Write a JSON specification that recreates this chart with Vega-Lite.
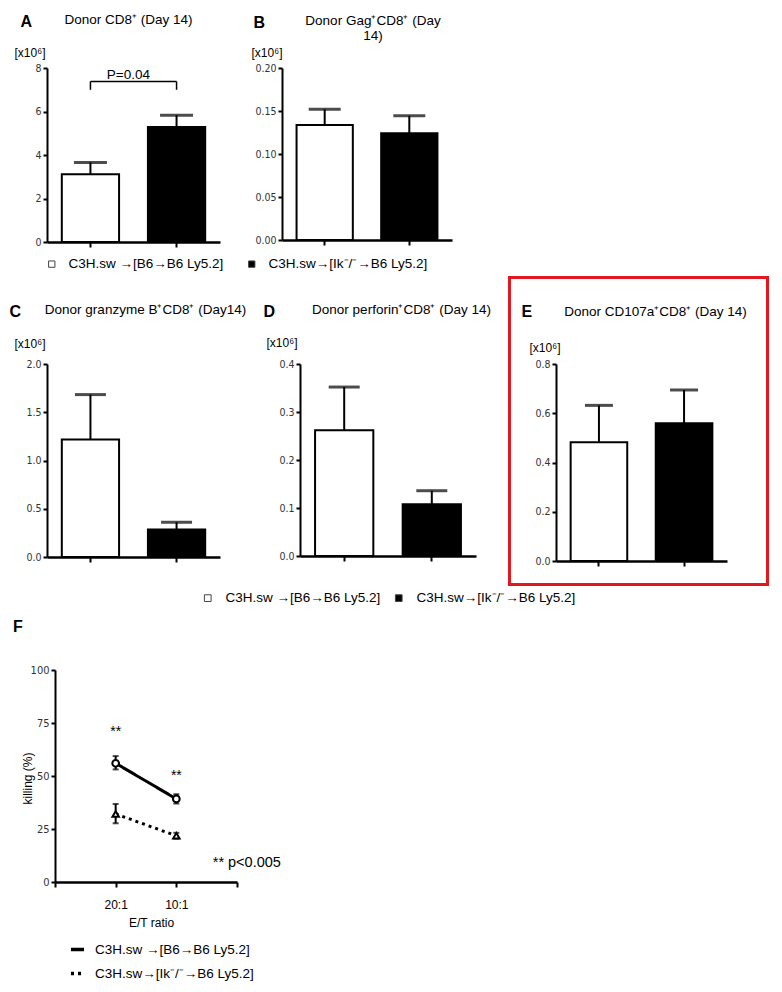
{
  "$schema": "https://vega.github.io/schema/vega-lite/v6.json",
  "autosize": {"type": "pad"},
  "padding": {"left": 9, "top": 12, "right": 0, "bottom": 0},
  "background": "white",
  "config": {
    "font": "Liberation Sans",
    "view": {"stroke": null},
    "title": {"font": "Liberation Sans", "fontSize": 13.5, "fontWeight": "normal", "color": "black", "anchor": "middle", "frame": "group", "offset": 0, "baseline": "alphabetic"},
    "axisY": {"grid": false, "domainColor": "black", "domainWidth": 2, "tickColor": "black", "tickWidth": 2, "tickSize": 4, "labelFont": "Liberation Sans Narrow, DejaVu Sans Condensed, Liberation Sans", "labelFontSize": 10.5, "labelColor": "#333", "labelPadding": 2, "titleAlign": "right", "titleBaseline": "alphabetic", "titleFont": "Liberation Sans", "titleFontSize": 12, "titleFontWeight": "normal", "titleColor": "black"},
    "axisX": {"grid": false, "domainColor": "black", "domainWidth": 2.5, "tickColor": "black", "tickWidth": 2, "tickSize": 5, "labels": false, "titleFont": "Liberation Sans", "titleFontSize": 16, "titleFontWeight": "bold", "titleColor": "black", "titleAlign": "left", "titleBaseline": "alphabetic"},
    "legend": {"padding": 0, "title": null, "labelFont": "Liberation Sans", "labelFontSize": 13.5, "labelColor": "black", "labelLimit": 400}
  },
  "spacing": 5,
  "resolve": {"scale": {"fill": "independent", "strokeDash": "independent"}, "legend": {"fill": "independent", "strokeDash": "independent"}},
  "vconcat": [
    {
      "bounds": "flush",
      "spacing": 62,
      "resolve": {"scale": {"fill": "independent"}, "legend": {"fill": "independent"}},
      "hconcat": [
        {
          "width": 173, "height": 174,
          "title": {"text": "Donor CD8⁺ (Day 14)", "dx": -5, "dy": 16.5},
          "data": {"values": [
            {"group": "C3H.sw →[B6→B6 Ly5.2]", "mean": 3.11, "upper": 3.66},
            {"group": "C3H.sw→[Ik⁻/⁻→B6 Ly5.2]", "mean": 5.29, "upper": 5.83}
          ]},
          "layer": [
            {
              "mark": {"type": "rule", "strokeWidth": 2, "color": "black"},
              "encoding": {
                "x": {"field": "group", "type": "nominal", "scale": {"domain": ["C3H.sw →[B6→B6 Ly5.2]", "C3H.sw→[Ik⁻/⁻→B6 Ly5.2]"], "paddingInner": 0.335, "paddingOuter": 0.172}, "axis": {"title": "A", "titleX": -27, "titleY": -215.5}},
                "y": {"field": "mean", "type": "quantitative", "scale": {"domain": [0, 8], "nice": false}, "axis": {"title": "[x10⁶]", "titleAngle": 0, "titleX": -2, "titleY": -12, "values": [0, 2, 4, 6, 8], "format": "d"}},
                "y2": {"field": "upper"}
              }
            },
            {
              "mark": {"type": "tick", "orient": "horizontal", "size": 33, "thickness": 3, "color": "black"},
              "encoding": {
                "x": {"field": "group", "type": "nominal"},
                "y": {"field": "upper", "type": "quantitative"}
              }
            },
            {
              "mark": {"type": "bar", "stroke": "black", "strokeWidth": 2},
              "encoding": {
                "x": {"field": "group", "type": "nominal"},
                "y": {"field": "mean", "type": "quantitative"},
                "fill": {"field": "group", "type": "nominal", "scale": {"domain": ["C3H.sw →[B6→B6 Ly5.2]", "C3H.sw→[Ik⁻/⁻→B6 Ly5.2]"], "range": ["white", "black"]},
                  "legend": {"orient": "none", "legendX": -2, "legendY": 189, "direction": "horizontal", "columns": 2, "symbolType": "square", "symbolSize": 40, "symbolStrokeColor": "#444", "symbolStrokeWidth": 1, "labelOffset": 10, "columnPadding": 21}}
              }
            },
            {
              "data": {"values": [{"group": "C3H.sw →[B6→B6 Ly5.2]", "group2": "C3H.sw→[Ik⁻/⁻→B6 Ly5.2]", "p": 7.38}]},
              "mark": {"type": "rule", "strokeWidth": 1.5, "color": "black"},
              "encoding": {
                "x": {"field": "group", "type": "nominal"},
                "x2": {"field": "group2"},
                "y": {"field": "p", "type": "quantitative"}
              }
            },
            {
              "data": {"values": [
                {"group": "C3H.sw →[B6→B6 Ly5.2]", "top": 7.38, "bottom": 7.0},
                {"group": "C3H.sw→[Ik⁻/⁻→B6 Ly5.2]", "top": 7.38, "bottom": 7.0}
              ]},
              "mark": {"type": "rule", "strokeWidth": 1.5, "color": "black"},
              "encoding": {
                "x": {"field": "group", "type": "nominal"},
                "y": {"field": "bottom", "type": "quantitative"},
                "y2": {"field": "top"}
              }
            },
            {
              "data": {"values": [{"group": "C3H.sw →[B6→B6 Ly5.2]", "p": 7.38, "label": "P=0.04"}]},
              "mark": {"type": "text", "font": "Liberation Sans", "fontSize": 13.5, "align": "center", "baseline": "alphabetic", "dx": 38, "dy": -2, "color": "black"},
              "encoding": {
                "x": {"field": "group", "type": "nominal"},
                "y": {"field": "p", "type": "quantitative"},
                "text": {"field": "label"}
              }
            }
          ]
        },
        {
          "width": 170, "height": 172,
          "title": {"text": ["Donor Gag⁺CD8⁺ (Day", "14)"], "dx": 6, "dy": 32, "lineHeight": 15},
          "data": {"values": [
            {"group": "C3H.sw →[B6→B6 Ly5.2]", "mean": 0.1337, "upper": 0.152},
            {"group": "C3H.sw→[Ik⁻/⁻→B6 Ly5.2]", "mean": 0.124, "upper": 0.1445}
          ]},
          "layer": [
            {
              "mark": {"type": "rule", "strokeWidth": 2, "color": "black"},
              "encoding": {
                "x": {"field": "group", "type": "nominal", "scale": {"domain": ["C3H.sw →[B6→B6 Ly5.2]", "C3H.sw→[Ik⁻/⁻→B6 Ly5.2]"], "paddingInner": 0.335, "paddingOuter": 0.172}, "axis": {"title": "B", "titleX": -29, "titleY": -213}},
                "y": {"field": "mean", "type": "quantitative", "scale": {"domain": [0, 0.2], "nice": false}, "axis": {"title": "[x10⁶]", "titleAngle": 0, "titleX": 0, "titleY": -12, "values": [0, 0.05, 0.1, 0.15, 0.2], "format": ".2f"}},
                "y2": {"field": "upper"}
              }
            },
            {
              "mark": {"type": "tick", "orient": "horizontal", "size": 32, "thickness": 3, "color": "black"},
              "encoding": {
                "x": {"field": "group", "type": "nominal"},
                "y": {"field": "upper", "type": "quantitative"}
              }
            },
            {
              "mark": {"type": "bar", "stroke": "black", "strokeWidth": 2},
              "encoding": {
                "x": {"field": "group", "type": "nominal"},
                "y": {"field": "mean", "type": "quantitative"},
                "fill": {"field": "group", "type": "nominal", "scale": {"domain": ["C3H.sw →[B6→B6 Ly5.2]", "C3H.sw→[Ik⁻/⁻→B6 Ly5.2]"], "range": ["white", "black"]}, "legend": null}
              }
            }
          ]
        }
      ]
    },
    {
      "bounds": "flush",
      "spacing": 80,
      "resolve": {"scale": {"fill": "independent"}, "legend": {"fill": "independent"}},
      "hconcat": [
        {
          "width": 173, "height": 193,
          "title": {"text": "Donor granzyme B⁺CD8⁺ (Day14)", "dx": 12, "dy": 17},
          "data": {"values": [
            {"group": "C3H.sw →[B6→B6 Ly5.2]", "mean": 1.217, "upper": 1.683},
            {"group": "C3H.sw→[Ik⁻/⁻→B6 Ly5.2]", "mean": 0.284, "upper": 0.36}
          ]},
          "layer": [
            {
              "mark": {"type": "rule", "strokeWidth": 2, "color": "black"},
              "encoding": {
                "x": {"field": "group", "type": "nominal", "scale": {"domain": ["C3H.sw →[B6→B6 Ly5.2]", "C3H.sw→[Ik⁻/⁻→B6 Ly5.2]"], "paddingInner": 0.335, "paddingOuter": 0.172}, "axis": {"title": "C", "titleX": -38, "titleY": -241}},
                "y": {"field": "mean", "type": "quantitative", "scale": {"domain": [0, 2], "nice": false}, "axis": {"title": "[x10⁶]", "titleAngle": 0, "titleX": -2, "titleY": -17, "values": [0, 0.5, 1, 1.5, 2], "format": ".1f"}},
                "y2": {"field": "upper"}
              }
            },
            {
              "mark": {"type": "tick", "orient": "horizontal", "size": 31, "thickness": 3, "color": "black"},
              "encoding": {
                "x": {"field": "group", "type": "nominal"},
                "y": {"field": "upper", "type": "quantitative"}
              }
            },
            {
              "mark": {"type": "bar", "stroke": "black", "strokeWidth": 2},
              "encoding": {
                "x": {"field": "group", "type": "nominal"},
                "y": {"field": "mean", "type": "quantitative"},
                "fill": {"field": "group", "type": "nominal", "scale": {"domain": ["C3H.sw →[B6→B6 Ly5.2]", "C3H.sw→[Ik⁻/⁻→B6 Ly5.2]"], "range": ["white", "black"]},
                  "legend": {"orient": "none", "legendX": 145, "legendY": 218, "padding": 9, "fillColor": "transparent", "direction": "horizontal", "columns": 2, "symbolType": "square", "symbolSize": 45, "symbolStrokeColor": "#444", "symbolStrokeWidth": 1, "labelOffset": 11, "columnPadding": 11}}
              }
            }
          ]
        },
        {
          "width": 176, "height": 192,
          "title": {"text": "Donor perforin⁺CD8⁺ (Day 14)", "dx": 13.5, "dy": 17},
          "data": {"values": [
            {"group": "C3H.sw →[B6→B6 Ly5.2]", "mean": 0.262, "upper": 0.352},
            {"group": "C3H.sw→[Ik⁻/⁻→B6 Ly5.2]", "mean": 0.108, "upper": 0.136}
          ]},
          "layer": [
            {
              "mark": {"type": "rule", "strokeWidth": 2, "color": "black"},
              "encoding": {
                "x": {"field": "group", "type": "nominal", "scale": {"domain": ["C3H.sw →[B6→B6 Ly5.2]", "C3H.sw→[Ik⁻/⁻→B6 Ly5.2]"], "paddingInner": 0.335, "paddingOuter": 0.172}, "axis": {"title": "D", "titleX": -37, "titleY": -240}},
                "y": {"field": "mean", "type": "quantitative", "scale": {"domain": [0, 0.4], "nice": false}, "axis": {"title": "[x10⁶]", "titleAngle": 0, "titleX": -3, "titleY": -18, "values": [0, 0.1, 0.2, 0.3, 0.4], "format": ".1f"}},
                "y2": {"field": "upper"}
              }
            },
            {
              "mark": {"type": "tick", "orient": "horizontal", "size": 31, "thickness": 3, "color": "black"},
              "encoding": {
                "x": {"field": "group", "type": "nominal"},
                "y": {"field": "upper", "type": "quantitative"}
              }
            },
            {
              "mark": {"type": "bar", "stroke": "black", "strokeWidth": 2},
              "encoding": {
                "x": {"field": "group", "type": "nominal"},
                "y": {"field": "mean", "type": "quantitative"},
                "fill": {"field": "group", "type": "nominal", "scale": {"domain": ["C3H.sw →[B6→B6 Ly5.2]", "C3H.sw→[Ik⁻/⁻→B6 Ly5.2]"], "range": ["white", "black"]}, "legend": null}
              }
            }
          ]
        },
        {
          "width": 171, "height": 197,
          "title": {"text": "Donor CD107a⁺CD8⁺ (Day 14)", "dx": 14, "dy": 46},
          "data": {"values": [
            {"group": "C3H.sw →[B6→B6 Ly5.2]", "mean": 0.482, "upper": 0.632},
            {"group": "C3H.sw→[Ik⁻/⁻→B6 Ly5.2]", "mean": 0.559, "upper": 0.6945}
          ]},
          "layer": [
            {
              "mark": {"type": "rule", "strokeWidth": 2, "color": "black"},
              "encoding": {
                "x": {"field": "group", "type": "nominal", "scale": {"domain": ["C3H.sw →[B6→B6 Ly5.2]", "C3H.sw→[Ik⁻/⁻→B6 Ly5.2]"], "paddingInner": 0.335, "paddingOuter": 0.172}, "axis": {"title": "E", "titleX": -35, "titleY": -245}},
                "y": {"field": "mean", "type": "quantitative", "scale": {"domain": [0, 0.8], "nice": false}, "axis": {"title": "[x10⁶]", "titleAngle": 0, "titleX": 4, "titleY": -13, "values": [0, 0.2, 0.4, 0.6, 0.8], "format": ".1f"}},
                "y2": {"field": "upper"}
              }
            },
            {
              "mark": {"type": "tick", "orient": "horizontal", "size": 28, "thickness": 3, "color": "black"},
              "encoding": {
                "x": {"field": "group", "type": "nominal"},
                "y": {"field": "upper", "type": "quantitative"}
              }
            },
            {
              "mark": {"type": "bar", "stroke": "black", "strokeWidth": 2},
              "encoding": {
                "x": {"field": "group", "type": "nominal"},
                "y": {"field": "mean", "type": "quantitative"},
                "fill": {"field": "group", "type": "nominal", "scale": {"domain": ["C3H.sw →[B6→B6 Ly5.2]", "C3H.sw→[Ik⁻/⁻→B6 Ly5.2]"], "range": ["white", "black"]}, "legend": null}
              }
            },
            {
              "data": {"values": [{}]},
              "mark": {"type": "rect", "fillOpacity": 0, "stroke": "#e3181f", "strokeWidth": 3},
              "encoding": {"x": {"value": -46.5}, "x2": {"value": 211.5}, "y": {"value": -86.5}, "y2": {"value": 220.5}}
            }
          ]
        }
      ]
    },
    {
      "width": 190, "height": 212,
      "title": {"text": "F", "anchor": "start", "fontWeight": "bold", "fontSize": 16, "dx": -34, "dy": -25},
      "data": {"values": [
        {"series": "C3H.sw →[B6→B6 Ly5.2]", "et": 20, "mean": 56.0, "lo": 53.1, "hi": 59.4},
        {"series": "C3H.sw →[B6→B6 Ly5.2]", "et": 10, "mean": 39.2, "lo": 37.0, "hi": 41.4},
        {"series": "C3H.sw→[Ik⁻/⁻→B6 Ly5.2]", "et": 20, "mean": 32.1, "lo": 27.7, "hi": 36.8},
        {"series": "C3H.sw→[Ik⁻/⁻→B6 Ly5.2]", "et": 10, "mean": 21.8, "lo": 20.4, "hi": 23.2}
      ]},
      "layer": [
        {
          "mark": {"type": "line", "color": "black", "strokeWidth": 3, "strokeCap": "butt"},
          "encoding": {
            "x": {"field": "et", "type": "quantitative", "scale": {"domain": [0, 30], "range": [190, 8], "nice": false},
              "axis": {"title": "E/T ratio", "values": [0, 10, 20, 30], "labels": true, "labelExpr": "datum.value == 20 ? '20:1' : datum.value == 10 ? '10:1' : ''", "labelFont": "Liberation Sans", "labelFontSize": 12, "labelColor": "black", "labelPadding": 12, "titleFontSize": 12, "titleFontWeight": "normal", "titleAlign": "center", "titleX": 104, "titleY": 44}},
            "y": {"field": "mean", "type": "quantitative", "scale": {"domain": [0, 100], "nice": false},
              "axis": {"title": "killing (%)", "offset": -8, "values": [0, 25, 50, 75, 100], "titleAlign": "center", "titleBaseline": "alphabetic", "titleX": -24, "titleY": 108, "labelFontSize": 11}},
            "strokeDash": {"field": "series", "type": "nominal", "scale": {"domain": ["C3H.sw →[B6→B6 Ly5.2]", "C3H.sw→[Ik⁻/⁻→B6 Ly5.2]"], "range": [[1, 0], [3, 4]]},
              "legend": {"orient": "none", "legendX": 22, "legendY": 271, "direction": "vertical", "symbolType": "stroke", "symbolSize": 169, "symbolStrokeWidth": 3.5, "symbolStrokeColor": "black", "labelOffset": 9, "rowPadding": 8}}
          }
        },
        {
          "mark": {"type": "rule", "color": "black", "strokeWidth": 2},
          "encoding": {
            "x": {"field": "et", "type": "quantitative"},
            "y": {"field": "lo", "type": "quantitative"},
            "y2": {"field": "hi"}
          }
        },
        {
          "mark": {"type": "tick", "orient": "horizontal", "size": 6, "thickness": 2, "color": "black"},
          "encoding": {
            "x": {"field": "et", "type": "quantitative"},
            "y": {"field": "lo", "type": "quantitative"}
          }
        },
        {
          "mark": {"type": "tick", "orient": "horizontal", "size": 6, "thickness": 2, "color": "black"},
          "encoding": {
            "x": {"field": "et", "type": "quantitative"},
            "y": {"field": "hi", "type": "quantitative"}
          }
        },
        {
          "transform": [{"filter": {"field": "series", "equal": "C3H.sw →[B6→B6 Ly5.2]"}}],
          "mark": {"type": "point", "shape": "circle", "filled": true, "fill": "white", "stroke": "black", "strokeWidth": 2, "size": 45, "opacity": 1},
          "encoding": {
            "x": {"field": "et", "type": "quantitative"},
            "y": {"field": "mean", "type": "quantitative"}
          }
        },
        {
          "transform": [{"filter": {"field": "series", "equal": "C3H.sw→[Ik⁻/⁻→B6 Ly5.2]"}}],
          "mark": {"type": "point", "shape": "triangle-up", "filled": true, "fill": "white", "stroke": "black", "strokeWidth": 2, "size": 42, "opacity": 1},
          "encoding": {
            "x": {"field": "et", "type": "quantitative"},
            "y": {"field": "mean", "type": "quantitative"}
          }
        },
        {
          "data": {"values": [
            {"et": 20, "y": 69, "label": "**"},
            {"et": 10, "y": 48, "label": "**"}
          ]},
          "mark": {"type": "text", "font": "Liberation Sans", "fontSize": 14, "align": "center", "baseline": "alphabetic", "color": "black"},
          "encoding": {
            "x": {"field": "et", "type": "quantitative"},
            "y": {"field": "y", "type": "quantitative"},
            "text": {"field": "label"}
          }
        },
        {
          "data": {"values": [{"et": 4, "y": 7.1, "label": "** p<0.005"}]},
          "mark": {"type": "text", "font": "Liberation Sans", "fontSize": 14.5, "align": "left", "baseline": "alphabetic", "color": "black"},
          "encoding": {
            "x": {"field": "et", "type": "quantitative"},
            "y": {"field": "y", "type": "quantitative"},
            "text": {"field": "label"}
          }
        }
      ]
    }
  ]
}
